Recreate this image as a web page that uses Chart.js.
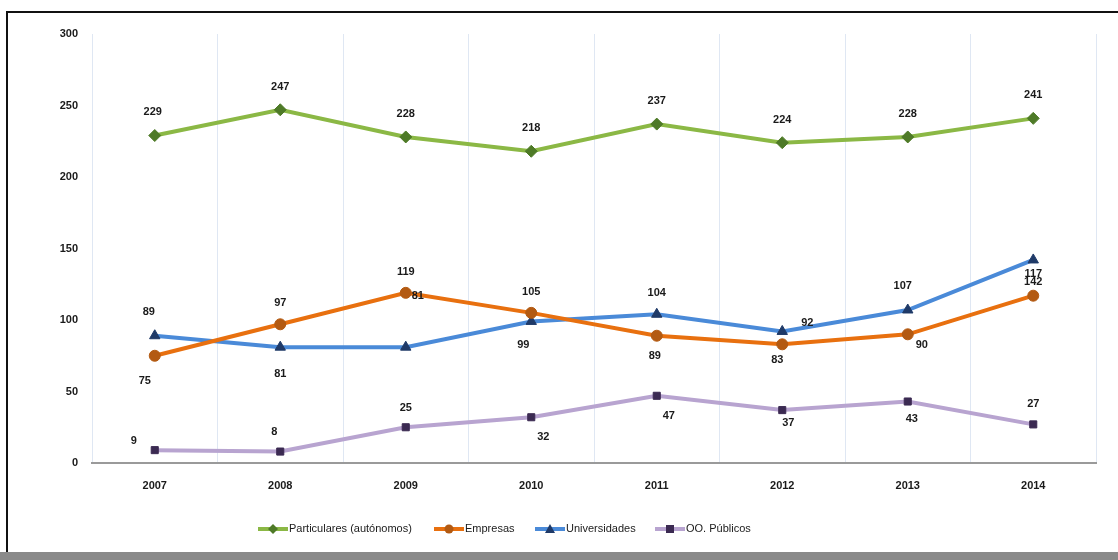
<!DOCTYPE html>
<html>
<head>
<meta charset="utf-8">
<script src="https://cdn.jsdelivr.net/npm/chart.js@4"></script>
<style>
  html, body { margin: 0; padding: 0; background: #fff; }
  #wrap { position: relative; width: 1118px; height: 560px; overflow: hidden; }
  #frame { position: absolute; left: 6px; top: 11px; width: 1200px; height: 600px;
           border-top: 2px solid #111; border-left: 2px solid #111; }
  #foot { position: absolute; left: 0; top: 552px; width: 1118px; height: 8px; background: #8a8a8a; }
  canvas { position: absolute; left: 0; top: 0; }
</style>
</head>
<body>
<div id="wrap">
  <div id="frame"></div>
  <div id="foot"></div>
  <canvas id="chart" width="1118" height="560"></canvas>
</div>
<script>
'use strict';

const years = ['2007', '2008', '2009', '2010', '2011', '2012', '2013', '2014'];
const particulares = [229, 247, 228, 218, 237, 224, 228, 241];
const empresas = [75, 97, 119, 105, 89, 83, 90, 117];
const universidades = [89, 81, 81, 99, 104, 92, 107, 142];
const publicos = [9, 8, 25, 32, 47, 37, 43, 27];
const yTicks = [0, 50, 100, 150, 200, 250, 300];

// where each value label sits relative to its point [dx, dy]
const offParticulares = [[-2,-24],[0,-23],[0,-23],[0,-23],[0,-23],[0,-23],[0,-23],[0,-23]];
const offEmpresas = [[-10,25],[0,-21],[0,-21],[0,-21],[-2,20],[-5,16],[14,11],[0,-22]];
const offUniversidades = [[-6,-24],[0,27],[12,-51],[-8,24],[0,-21],[25,-8],[-5,-24],[0,22]];
const offPublicos = [[-21,-9],[-6,-20],[0,-19],[12,20],[12,20],[6,13],[4,17],[0,-20]];

// legend item left edges (x of the line sample)
const legendX = [258, 434, 535, 655];

let canvasElem = document.getElementById('chart');
const FONT = '"Liberation Sans", Arial, sans-serif';

const series = [
  { label: 'Particulares (autónomos)', data: particulares, offs: offParticulares, line: '#8bb845', mark: '#4e7a27', style: 'rectRot', r: 6 },
  { label: 'Empresas', data: empresas, offs: offEmpresas, line: '#e8700f', mark: '#b35a12', style: 'circle', r: 5.5 },
  { label: 'Universidades', data: universidades, offs: offUniversidades, line: '#4a8ad8', mark: '#1f3a68', style: 'triangle', r: 6 },
  { label: 'OO. Públicos', data: publicos, offs: offPublicos, line: '#b8a4d0', mark: '#3b2a52', style: 'rect', r: 5 }
];

function drawMarker(g, style, cx, cy, color) {
  g.fillStyle = color;
  g.beginPath();
  if (style === 'rectRot') { g.moveTo(cx, cy - 5); g.lineTo(cx + 5, cy); g.lineTo(cx, cy + 5); g.lineTo(cx - 5, cy); }
  else if (style === 'circle') { g.arc(cx, cy, 4.5, 0, Math.PI * 2); }
  else if (style === 'triangle') { g.moveTo(cx, cy - 5); g.lineTo(cx + 5, cy + 4); g.lineTo(cx - 5, cy + 4); }
  else { g.rect(cx - 4, cy - 4, 8, 8); }
  g.closePath();
  g.fill();
}

const valueLabels = {
  id: 'valueLabels',
  afterDatasetsDraw(chart) {
    const ctx = chart.ctx;
    ctx.save();
    ctx.font = 'bold 11px ' + FONT;
    ctx.fillStyle = '#1a1a1a';
    ctx.textAlign = 'center';
    ctx.textBaseline = 'middle';
    chart.data.datasets.forEach((ds, i) => {
      chart.getDatasetMeta(i).data.forEach((pt, j) => {
        const o = series[i].offs[j];
        ctx.fillText(String(ds.data[j]), pt.x + o[0], pt.y + o[1]);
      });
    });
    ctx.restore();
  }
};

const bottomLegend = {
  id: 'bottomLegend',
  afterDraw(chart) {
    const ctx = chart.ctx;
    const y = 529;
    ctx.save();
    ctx.font = '11px ' + FONT;
    ctx.textBaseline = 'middle';
    ctx.textAlign = 'left';
    series.forEach((s, i) => {
      const x = legendX[i];
      ctx.strokeStyle = s.line;
      ctx.lineWidth = 4;
      ctx.beginPath(); ctx.moveTo(x, y); ctx.lineTo(x + 30, y); ctx.stroke();
      drawMarker(ctx, s.style, x + 15, y, s.mark);
      ctx.fillStyle = '#1a1a1a';
      ctx.fillText(s.label, x + 31, y);
    });
    ctx.restore();
  }
};

function renderChart() {
  const chartData = {
    labels: years,
    datasets: series.map(s => ({
      label: s.label,
      data: s.data,
      borderColor: s.line,
      backgroundColor: s.mark,
      borderWidth: 4,
      pointStyle: s.style,
      pointRadius: s.r,
      pointBackgroundColor: s.mark,
      pointBorderColor: s.mark,
      pointBorderWidth: 1,
      tension: 0
    }))
  };

  const config = {
    type: 'line',
    data: chartData,
    plugins: [valueLabels, bottomLegend],
    options: {
      responsive: false,
      animation: false,
      layout: { padding: { top: 34, right: 22, left: 0, bottom: 37 } },
      plugins: {
        tooltip: { enabled: false },
        legend: { display: false }
      },
      scales: {
        x: {
          offset: true,
          grid: { display: true, offset: true, color: '#dfe7f3', lineWidth: 1, drawTicks: false },
          border: { display: true, color: '#9a9a9a', width: 2 },
          ticks: { padding: 16, color: '#1a1a1a', font: { size: 11, weight: 'bold', family: FONT } },
          afterFit(scale) { scale.height = 60; }
        },
        y: {
          min: 0,
          max: 300,
          afterBuildTicks(scale) { scale.ticks = yTicks.map(v => ({ value: v })); },
          grid: { display: false, drawTicks: false },
          border: { display: false },
          ticks: { padding: 14, color: '#1a1a1a', font: { size: 11, weight: 'bold', family: FONT } },
          afterFit(scale) { scale.width = 92; }
        }
      }
    }
  };

  new Chart(canvasElem, config);
}

renderChart();
</script>
</body>
</html>
